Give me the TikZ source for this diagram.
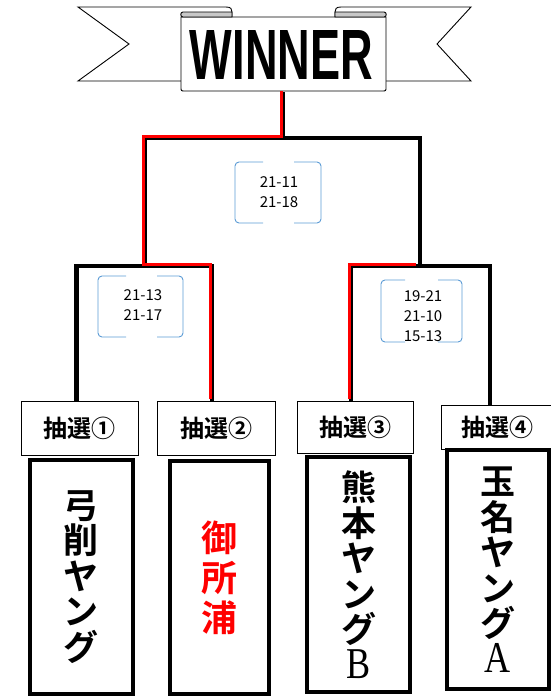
\documentclass[tikz,border=0pt]{standalone}
\usepackage{fontspec}
\usepackage{graphicx}
\usepackage{xcolor}
\newfontfamily\jpfont{Noto Sans CJK JP}[BoldFont={Noto Sans CJK JP Bold}]
\newfontfamily\winfont{Liberation Sans}
\newfontfamily\serfont{Liberation Serif}
\definecolor{scoreblue}{RGB}{91,155,213}
\definecolor{rollgray}{RGB}{200,200,200}

\begin{document}
\begin{tikzpicture}[x=1pt,y=-1pt,
    banner/.style={draw=black,line width=0.9pt,fill=white},
    line/.style={black,line width=4.2pt},
    redline/.style={red,line width=3pt,transform canvas={xshift=-2pt,yshift=1.5pt}},
    lotbox/.style={draw=black,line width=0.8pt,fill=white,inner sep=0pt,font=\jpfont\bfseries\fontsize{24}{24}\selectfont},
    teambox/.style={draw=black,line width=4pt,fill=white,align=center,inner sep=0pt,font=\jpfont\bfseries\fontsize{35}{35.5}\selectfont},
    score/.style={font=\jpfont\fontsize{15}{20}\selectfont,align=center,inner sep=0pt},
    scoreline/.style={draw=scoreblue,line width=0.9pt,rounded corners=4pt}]
        \useasboundingbox (0,0) rectangle (551,696);

        % banner
        \filldraw[banner] (181,81) -- (78,81) -- (129,44) -- (78,7) -- (226,7) .. controls (231,7) and (232,9) .. (232,12) -- (232,30);
        \filldraw[banner] (386,81) -- (471,81) -- (437,44) -- (471,7) -- (341,7) .. controls (336,7) and (335,9) .. (335,12) -- (335,30);
        \filldraw[banner] (181,17) -- (386,17) -- (386,87) .. controls (386,91) .. (382,91) -- (185,91) .. controls (181,91) .. (181,87) -- cycle;
        \filldraw[banner,fill=rollgray] (183,17) .. controls (180,17) and (180,12) .. (183,12) -- (232,12) -- (232,17) -- cycle;
        \filldraw[banner,fill=rollgray] (335,12) -- (384,12) .. controls (387,12) and (387,17) .. (384,17) -- (335,17) -- cycle;
        \node[inner sep=0pt] (winner) at (281.5,54.5) {\resizebox{183pt}{49pt}{\winfont\bfseries WINNER}};
        \coordinate (ws) at (283,92);

        \node[lotbox,minimum width=117pt,minimum height=54pt] (draw1) at (79.5,428) {抽選①};
        \node[lotbox,minimum width=118pt,minimum height=54pt] (draw2) at (216,428) {抽選②};
        \node[lotbox,minimum width=116pt,minimum height=52pt] (draw3) at (355,427) {抽選③};
        \node[lotbox,minimum width=112pt,minimum height=44pt] (draw4) at (497,427) {抽選④};

        \node[teambox,minimum width=102.5pt,minimum height=234pt] (team1) at (81.25,577) {弓\\削\\ヤ\\ン\\グ};
        \node[teambox,text=red,minimum width=99pt,minimum height=233pt,font=\jpfont\bfseries\fontsize{36}{40}\selectfont] (team2) at (219.5,577.5) {御\\所\\浦};
        \node[teambox,minimum width=103pt,minimum height=235pt] (team3) at (358.5,574.5) {熊\\本\\ヤ\\ン\\グ\\{\serfont\mdseries\fontsize{44}{36}\selectfont\scalebox{0.82}[1]{B}}};
        \node[teambox,minimum width=102pt,minimum height=239pt] (team4) at (498,569.5) {玉\\名\\ヤ\\ン\\グ\\{\serfont\mdseries\fontsize{44}{36}\selectfont\scalebox{0.82}[1]{A}}};

        \coordinate (s1) at ([xshift=-3pt]draw1.north);
        \coordinate (s2) at ([xshift=-4pt]draw2.north);
        \coordinate (s3) at ([xshift=-4pt]draw3.north);
        \coordinate (s4) at ([xshift=-7pt]draw4.north);
        \coordinate (m1) at (145,266);
        \coordinate (m2) at (420,266);
        \coordinate (f) at (283,138);

        \draw[line] (s1) -- (s1 |- m1) -- (s2 |- m1) -- (s2);
        \draw[line] (s3) -- (s3 |- m2) -- (s4 |- m2) -- (s4);
        \draw[line] (m1) |- (f) -| (m2);
        \draw[line] (f) -- (ws);
        \draw[redline] (s2) -- (s2 |- m1) -- (m1) |- (f) -- (ws);
        \draw[redline] (s3) -- (s3 |- m2) -- ([xshift=-2pt]m2);

        % scores
        \node[score] (sc1) at (279,192) {21-11\\21-18};
        \node[score] (sc2) at (143,305.5) {21-13\\21-17};
        \node[score] (sc3) at (423,316) {19-21\\21-10\\15-13};
        \begin{scope}[shift={(sc1.center)}]
          \draw[scoreline] (-16,-30) -| (-44,31) -- (-16,31);
          \draw[scoreline] (15,-30) -| (42,31) -- (15,31);
        \end{scope}
        \begin{scope}[shift={(sc2.center)}]
          \draw[scoreline] (-17,-29.5) -| (-45,31.5) -- (-17,31.5);
          \draw[scoreline] (14,-29.5) -| (40,31.5) -- (14,31.5);
        \end{scope}
        \begin{scope}[shift={(sc3.center)}]
          \draw[scoreline] (-18,-36) -| (-42,26) -- (-18,26);
          \draw[scoreline] (15,-36) -| (39,26) -- (15,26);
        \end{scope}
      \end{tikzpicture}
\end{document}
